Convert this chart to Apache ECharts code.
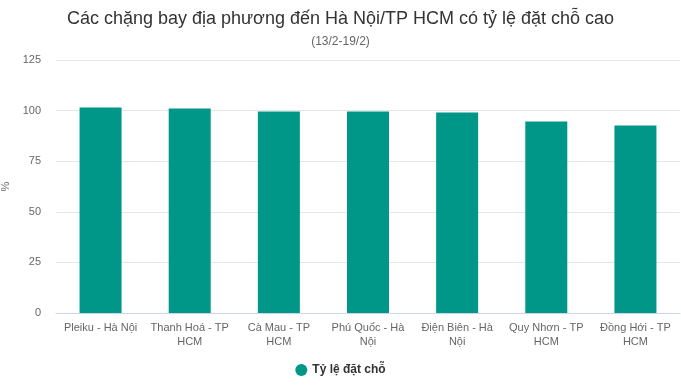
<!DOCTYPE html>
<html><head><meta charset="utf-8">
<script src="https://cdn.jsdelivr.net/npm/echarts@6/dist/echarts.min.js"></script>
<style>html,body{margin:0;padding:0;background:#fff}#c{width:681px;height:385px}</style>
</head><body><div id="c"></div>
<script>
var categories = ['Pleiku - Hà Nội','Thanh Hoá - TP HCM','Cà Mau - TP HCM','Phú Quốc - Hà Nội','Điện Biên - Hà Nội','Quy Nhơn - TP HCM','Đồng Hới - TP HCM'];
var values = [101.5, 101, 99.5, 99.5, 99, 94.6, 92.6];
var seriesName = 'Tỷ lệ đặt chỗ';
var yTicks = [0, 25, 50, 75, 100, 125];
var chart = echarts.init(document.getElementById('c'));
var font = 'Liberation Sans, Arial, sans-serif';
var ctx = document.createElement('canvas').getContext('2d');
ctx.font = '11px ' + font;
function wrap(v) {
  var words = v.split(' '), lines = [], cur = '';
  for (var i = 0; i < words.length; i++) {
    var t = cur ? cur + ' ' + words[i] : words[i];
    if (cur && ctx.measureText(t).width > 84) { lines.push(cur); cur = words[i]; }
    else cur = t;
  }
  lines.push(cur);
  return lines.join('\n');
}
chart.setOption({
  animation: false,
  textStyle: {fontFamily: font},
  title: {
    text: 'Các chặng bay địa phương đến Hà Nội/TP HCM có tỷ lệ đặt chỗ cao',
    subtext: '(13/2-19/2)',
    left: 'center', top: 5,
    itemGap: 8,
    textStyle: {fontSize: 18, fontWeight: 'normal', color: '#333', fontFamily: font},
    subtextStyle: {fontSize: 12, color: '#666', fontFamily: font}
  },
  legend: {
    bottom: 4, left: 'center',
    icon: 'circle', itemWidth: 12, itemHeight: 12,
    textStyle: {fontSize: 12, fontWeight: 'bold', color: '#333', fontFamily: font},
    data: [seriesName]
  },
  grid: {left: 56, right: 1, top: 60, bottom: 72, containLabel: false, outerBoundsMode: 'none'},
  xAxis: {
    type: 'category', data: categories,
    axisLine: {lineStyle: {color: '#ccd6eb'}},
    axisTick: {show: false},
    axisLabel: {
      interval: 0, color: '#666', fontSize: 11, lineHeight: 14, margin: 8,
      formatter: wrap
    }
  },
  yAxis: {
    type: 'value', min: yTicks[0], max: yTicks[yTicks.length - 1], interval: 25,
    name: '%', nameLocation: 'middle', nameGap: 44, nameRotate: 90,
    nameTextStyle: {color: '#666', fontSize: 11},
    axisLabel: {color: '#666', fontSize: 11, margin: 15},
    splitLine: {lineStyle: {color: '#e6e6e6'}},
    axisLine: {show: false}, axisTick: {show: false}
  },
  series: [{
    name: seriesName, type: 'bar', data: values,
    barWidth: 42,
    itemStyle: {color: '#009688'}
  }]
});
</script></body></html>
